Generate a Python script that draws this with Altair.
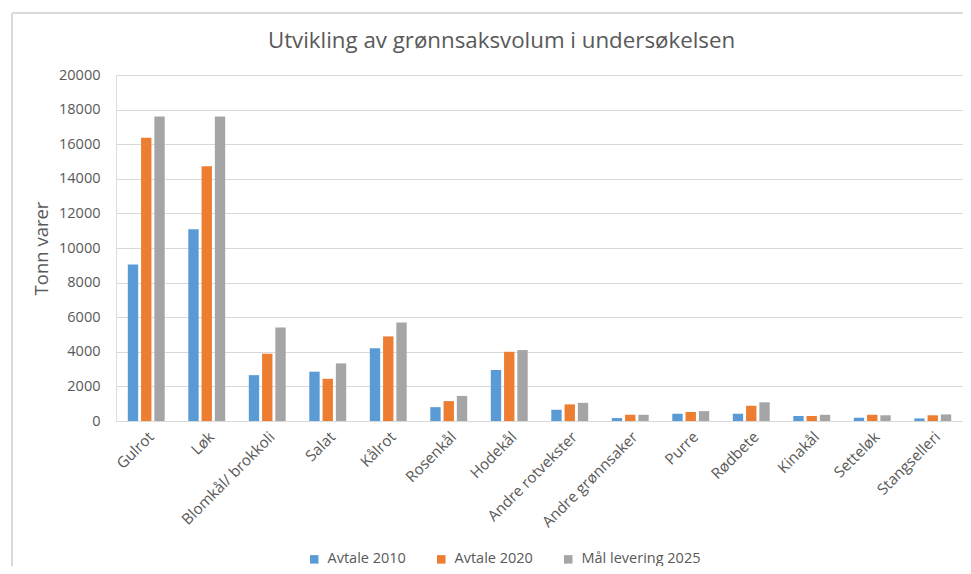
import altair as alt
import pandas as pd

categories = ["Gulrot", "Løk", "Blomkål/ brokkoli", "Salat", "Kålrot", "Rosenkål",
              "Hodekål", "Andre rotvekster", "Andre grønnsaker", "Purre", "Rødbete",
              "Kinakål", "Setteløk", "Stangselleri"]
series_names = ["Avtale 2010", "Avtale 2020", "Mål levering 2025"]
avtale_2010 = [9050, 11080, 2650, 2850, 4200, 800, 2950, 650, 170, 420, 420, 290, 190, 150]
avtale_2020 = [16380, 14720, 3890, 2440, 4890, 1150, 4000, 960, 360, 520, 880, 290, 360, 330]
maal_2025 = [17600, 17600, 5410, 3330, 5700, 1450, 4100, 1050, 360, 570, 1080, 360, 330, 380]
colors = ["#5B9BD5", "#ED7D31", "#A5A5A5"]
y_ticks = list(range(0, 20001, 2000))

rows = []
for name, vals in zip(series_names, [avtale_2010, avtale_2020, maal_2025]):
    for c, v in zip(categories, vals):
        rows.append({"Kategori": c, "Serie": name, "Verdi": v})
df = pd.DataFrame(rows)

FONT = "Open Sans"
TXT = "#595959"

bars = alt.Chart(df).mark_bar().encode(
    x=alt.X("Kategori:N", sort=categories, title=None,
            scale=alt.Scale(paddingInner=0.39, paddingOuter=0.195),
            axis=alt.Axis(labelAngle=-45, labelFontSize=15.2, labelColor=TXT,
                          labelFont=FONT, ticks=False, domainColor="#D9D9D9",
                          labelPadding=8, labelLimit=300, grid=False)),
    xOffset=alt.XOffset("Serie:N", sort=series_names,
                        scale=alt.Scale(paddingInner=0.22, paddingOuter=0)),
    y=alt.Y("Verdi:Q", title="Tonn varer",
            scale=alt.Scale(domain=[0, 20000], nice=False),
            axis=alt.Axis(values=y_ticks, format="d", labelFontSize=14.5,
                          labelColor=TXT, labelFont=FONT, ticks=False, domain=False,
                          gridColor="#D9D9D9", labelPadding=16,
                          titleFontSize=18.5, titleColor=TXT, titleFont=FONT,
                          titleFontWeight="normal", titlePadding=7)),
    color=alt.Color("Serie:N", sort=series_names,
                    scale=alt.Scale(domain=series_names, range=colors),
                    legend=alt.Legend(title=None, orient="none", direction="horizontal",
                                      legendX=191, legendY=477,
                                      symbolType="square", symbolSize=72,
                                      symbolStrokeWidth=0, labelFontSize=14.5,
                                      labelColor=TXT, labelFont=FONT,
                                      labelOffset=6, columnPadding=28)),
)

border_left = alt.Chart(df).mark_rule(color="#D9D9D9", strokeWidth=1).encode(
    x=alt.value(-104), y=alt.value(-62), y2=alt.value(500))
border_top = alt.Chart(df).mark_rule(color="#D9D9D9", strokeWidth=1).encode(
    x=alt.value(-104), x2=alt.value(855), y=alt.value(-62))

chart = alt.layer(bars, border_left, border_top).properties(
    width=847, height=346,
    autosize=alt.AutoSizeParams(type="none"),
    padding={"left": 108, "top": 67, "right": 0, "bottom": 145},
    title=alt.TitleParams("Utvikling av grønnsaksvolum i undersøkelsen",
                          fontSize=22.3, font=FONT, color=TXT, fontWeight="normal",
                          anchor="middle", baseline="alphabetic", dx=-38, offset=-58),
).configure_view(stroke=None).configure(font=FONT)

chart.save("out.html", embed_options={"renderer": "svg", "actions": False})
